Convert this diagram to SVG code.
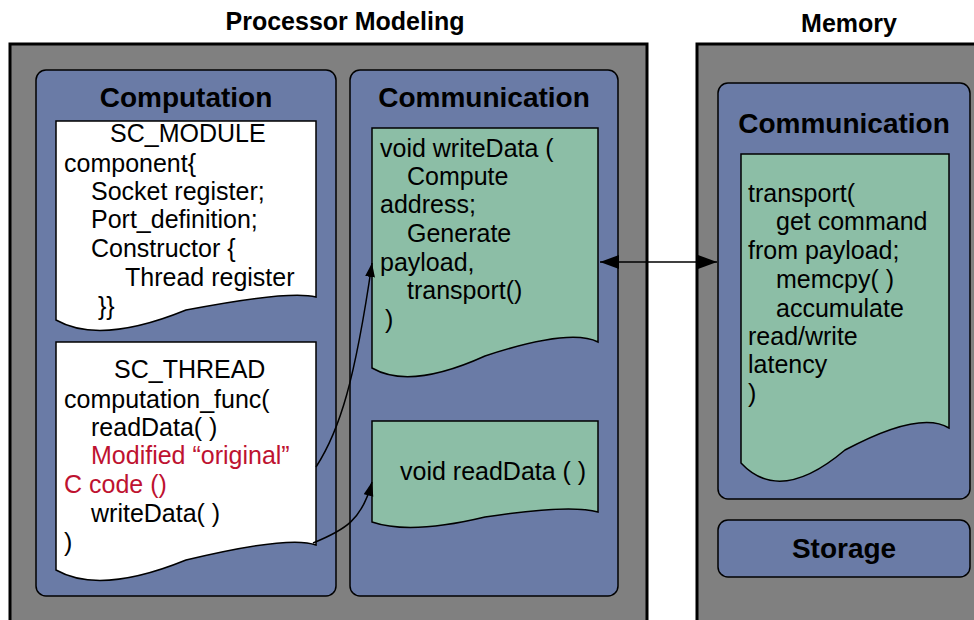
<svg xmlns="http://www.w3.org/2000/svg" width="974" height="620" viewBox="0 0 974 620">
<defs>
<style>
text{font-family:"Liberation Sans",Arial,Helvetica,sans-serif;fill:#000}
.title{font-size:25px;font-weight:bold;text-anchor:middle}
.head{font-size:28px;font-weight:bold;text-anchor:middle}
.code{font-size:25px}
.red{fill:#be1230}
.outer{fill:#808080;stroke:#000;stroke-width:3}
.panel{fill:#6a7ba6;stroke:#000;stroke-width:1.5}
.docw{fill:#fff;stroke:#000;stroke-width:1.5}
.docg{fill:#8cbea6;stroke:#000;stroke-width:1.5}
.conn{fill:none;stroke:#000;stroke-width:1.5}
</style>
<marker id="big" markerUnits="userSpaceOnUse" markerWidth="22" markerHeight="16" refX="19" refY="7" orient="auto-start-reverse">
<path d="M0,0 L19,7 L0,14 z" fill="#000"/>
</marker>
<marker id="small" markerUnits="userSpaceOnUse" markerWidth="15" markerHeight="12" refX="14" refY="5" orient="auto">
<path d="M0,0 L14,5 L0,10 z" fill="#000"/>
</marker>
</defs>
<rect width="974" height="620" fill="#fff"/>

<g id="processor">
<rect class="outer" x="10" y="44" width="637" height="600"/>
<text class="title" x="345" y="30">Processor Modeling</text>
</g>
<g id="memory">
<rect class="outer" x="697" y="44" width="300" height="600"/>
<text class="title" x="849" y="32">Memory</text>
</g>

<g id="computation">
<rect class="panel" x="36" y="70" width="300" height="526" rx="10"/>
<text class="head" x="186" y="107">Computation</text>
</g>
<g id="communication-proc">
<rect class="panel" x="350" y="70" width="268" height="526" rx="10"/>
<text class="head" x="484" y="107">Communication</text>
</g>
<g id="communication-mem">
<rect class="panel" x="718" y="83" width="252" height="416" rx="10"/>
<text class="head" x="844" y="133">Communication</text>
</g>
<g id="storage">
<rect class="panel" x="718" y="520" width="252" height="57" rx="10"/>
<text class="head" x="844" y="558">Storage</text>
</g>

<g id="sc-module">
<path class="docw" d="M56,121 H316 V297 Q290,290 186,310 Q100,345 56,320 Z"/>
<text class="code" x="110" y="142">SC_MODULE</text>
<text class="code" x="64" y="172">component{</text>
<text class="code" x="91" y="200">Socket register;</text>
<text class="code" x="91" y="228">Port_definition;</text>
<text class="code" x="91" y="257">Constructor {</text>
<text class="code" x="125" y="286">Thread register</text>
<text class="code" x="98" y="315">}}</text>
</g>

<g id="sc-thread">
<path class="docw" d="M56,342 H316 V545 Q290,535 186,560 Q100,595 56,570 Z"/>
<text class="code" x="114" y="378">SC_THREAD</text>
<text class="code" x="64" y="408">computation_func(</text>
<text class="code" x="91" y="436">readData( )</text>
<text class="code red" x="91" y="464">Modified “original”</text>
<text class="code red" x="64" y="493">C code ()</text>
<text class="code" x="91" y="522">writeData( )</text>
<text class="code" x="64" y="551">)</text>
</g>

<g id="write-data">
<path class="docg" d="M372,128 H598 V342 Q570,328 485,356 Q410,390 372,368 Z"/>
<text class="code" x="380" y="157">void writeData (</text>
<text class="code" x="407" y="185">Compute</text>
<text class="code" x="380" y="213">address;</text>
<text class="code" x="407" y="242">Generate</text>
<text class="code" x="380" y="271">payload,</text>
<text class="code" x="407" y="299">transport()</text>
<text class="code" x="385" y="328">)</text>
</g>

<g id="read-data">
<path class="docg" d="M372,421 H598 V512 Q570,504 485,517 Q410,535 372,522 Z"/>
<text class="code" x="400" y="480">void readData ( )</text>
</g>

<g id="transport">
<path class="docg" d="M741,154 H949 V428 Q920,410 845,450 Q780,505 741,463 Z"/>
<text class="code" x="748" y="202">transport(</text>
<text class="code" x="776" y="230">get command</text>
<text class="code" x="748" y="259">from payload;</text>
<text class="code" x="776" y="288">memcpy( )</text>
<text class="code" x="776" y="317">accumulate</text>
<text class="code" x="748" y="345">read/write</text>
<text class="code" x="748" y="373">latency</text>
<text class="code" x="748" y="402">)</text>
</g>

<g id="connectors">
<line class="conn" x1="600" y1="262" x2="717" y2="262" stroke-width="2.5" marker-start="url(#big)" marker-end="url(#big)"/>
<path class="conn" d="M316,467 C340,430 355,380 372,263" marker-end="url(#small)"/>
<path class="conn" d="M313,543 C345,530 362,520 372,482" marker-end="url(#small)"/>
</g>
</svg>
